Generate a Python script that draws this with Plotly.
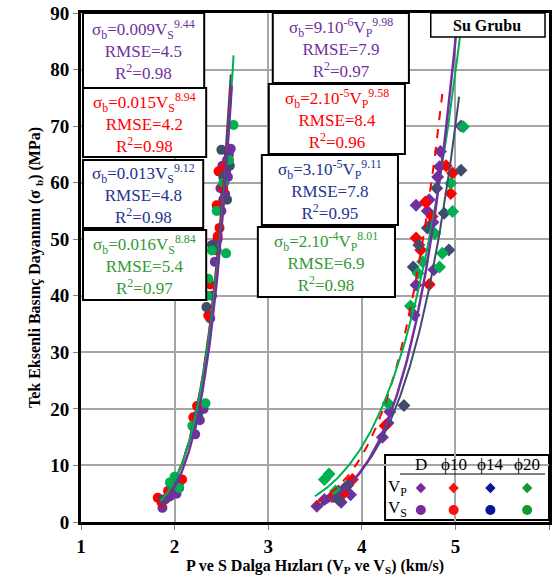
import numpy as np
import plotly.graph_objects as go

# ---- measured points: S-wave velocity (km/s) vs UCS (MPa) ----
vs_D_x = [1.87, 1.90, 1.95, 1.98, 2.02, 2.05, 2.22, 2.27, 2.31, 2.38, 2.40, 2.43, 2.46, 2.50,
          2.52, 2.49, 2.53, 2.55, 2.51, 2.56, 2.58, 2.60, 2.54, 2.57]
vs_D_y = [2.5, 4.0, 4.5, 6.5, 5.0, 7.0, 15.5, 18.0, 20.0, 36.0, 40.0, 46.0, 50.0, 55.0,
          57.0, 59.0, 60.0, 62.0, 63.0, 64.0, 65.0, 66.0, 58.0, 61.0]
vs_10_x = [1.82, 1.86, 1.93, 2.08, 2.20, 2.24, 2.36, 2.38, 2.46, 2.48, 2.45, 2.47, 2.52, 2.55, 2.58]
vs_10_y = [4.3, 3.5, 5.5, 7.5, 18.5, 20.5, 36.5, 42.0, 50.5, 52.0, 56.0, 62.0, 59.0, 63.0, 64.0]
vs_14_x = [1.88, 1.97, 2.01, 2.25, 2.34, 2.40, 2.45, 2.50, 2.52, 2.56, 2.59]
vs_14_y = [4.0, 6.0, 7.5, 19.0, 38.0, 49.0, 48.0, 65.8, 61.0, 57.0, 63.0]
vs_20_x = [1.95, 2.00, 2.05, 2.19, 2.33, 2.35, 2.36, 2.40, 2.55, 2.45, 2.52, 2.58, 2.63]
vs_20_y = [7.0, 8.0, 6.0, 17.0, 21.0, 40.0, 43.0, 48.0, 47.5, 55.0, 60.0, 64.0, 70.2]

# ---- measured points: P-wave velocity (km/s) vs UCS (MPa) ----
vp_D_x = [3.52, 3.60, 3.68, 3.75, 3.82, 3.88, 3.78, 4.22, 4.28, 4.30, 4.56, 4.58, 4.77,
          4.58, 4.72, 4.76, 4.81, 4.83, 4.84, 5.06, 4.70]
vp_D_y = [2.8, 4.0, 4.5, 5.5, 6.0, 4.8, 3.5, 15.0, 17.5, 19.5, 36.6, 41.9, 44.6,
          56.0, 57.0, 53.0, 61.0, 62.8, 65.5, 70.0, 55.0]
vp_10_x = [3.70, 3.80, 3.90, 4.25, 4.58, 4.63, 4.72, 4.68, 4.75, 4.95, 4.97, 4.90]
vp_10_y = [4.5, 5.0, 7.5, 17.0, 50.2, 48.1, 42.0, 56.6, 54.0, 58.1, 61.7, 63.0]
vp_14_x = [3.75, 3.85, 4.45, 4.55, 4.61, 4.93, 4.88, 5.06, 4.80, 4.70]
vp_14_y = [4.0, 6.5, 20.6, 45.1, 49.0, 48.1, 54.6, 62.2, 59.0, 52.0]
vp_20_x = [3.60, 3.65, 3.72, 4.28, 4.52, 4.60, 4.65, 4.83, 4.86, 4.97, 4.95, 5.085, 4.78]
vp_20_y = [7.5, 8.5, 5.5, 21.0, 38.2, 44.0, 46.0, 45.1, 47.5, 54.9, 59.9, 69.9, 51.0]

# ---- power-law fits  sigma_b = a * V^b ----
vs_coef = [0.009, 0.015, 0.013, 0.016]
vs_exp = [9.44, 8.94, 9.12, 8.84]
vs_end = [2.61, 2.60, 2.60, 2.63]
vp_coef = [9e-6, 2e-5, 3e-5, 2e-4]
vp_exp = [9.98, 9.58, 9.11, 8.01]
vp_end = [5.02, 4.86, 5.04, 5.06]
rmse_vs = ["4.5", "4.2", "4.8", "5.4"]
r2_vs = ["0.98", "0.98", "0.98", "0.97"]
rmse_vp = ["7.9", "8.4", "7.8", "6.9"]
r2_vp = ["0.97", "0.96", "0.95", "0.98"]
vp_coef_txt = ["9.10<sup>-6</sup>", "2.10<sup>-5</sup>", "3.10<sup>-5</sup>", "2.10<sup>-4</sup>"]
vs_coef_txt = ["0.009", "0.015", "0.013", "0.016"]

groups = ["D", "ϕ10", "ϕ14", "ϕ20"]
pt_colors = ["#7030A0", "#FF0000", "#3F4D6C", "#00B050"]
txt_colors = ["#7030A0", "#FF0000", "#24338F", "#339933"]
leg_colors = ["#7B2A9E", "#FF1010", "#0A1496", "#149A2C"]
line_dash = ["solid", "dash", "solid", "solid"]

vs_pts = [(vs_D_x, vs_D_y), (vs_10_x, vs_10_y), (vs_14_x, vs_14_y), (vs_20_x, vs_20_y)]
vp_pts = [(vp_D_x, vp_D_y), (vp_10_x, vp_10_y), (vp_14_x, vp_14_y), (vp_20_x, vp_20_y)]

FONT = "Liberation Serif"
W, H = 553, 585
L, R, T, B = 81, 1, 13, 63

fig = go.Figure()

# scatter markers
for i in range(4):
    fig.add_trace(go.Scatter(x=vp_pts[i][0], y=vp_pts[i][1], mode="markers",
                             marker=dict(symbol="diamond", size=10, color=pt_colors[i]),
                             showlegend=False))
    fig.add_trace(go.Scatter(x=vs_pts[i][0], y=vs_pts[i][1], mode="markers",
                             marker=dict(symbol="circle", size=10, color=pt_colors[i]),
                             showlegend=False))

# fitted curves (purple drawn last so it sits on top)
for i in [2, 1, 3, 0]:
    xs = np.linspace(1.85, vs_end[i], 80)
    fig.add_trace(go.Scatter(x=xs, y=vs_coef[i] * xs ** vs_exp[i], mode="lines",
                             line=dict(color=pt_colors[i], width=2.5 if i == 0 else 2,
                                       dash=line_dash[i]), showlegend=False))
    xp = np.linspace(3.5, vp_end[i], 120)
    fig.add_trace(go.Scatter(x=xp, y=vp_coef[i] * xp ** vp_exp[i], mode="lines",
                             line=dict(color=pt_colors[i], width=2.5 if i == 0 else 2,
                                       dash=line_dash[i]), showlegend=False))


def px_x(p):
    return (p - L) / (W - L - R)


def px_y(p):
    return (H - B - p) / (H - T - B)


shapes = []
annots = []

# equation boxes
vs_boxes = [(83, 205, 13, 88), (83, 207, 88, 157), (83, 204, 160, 228), (83, 207, 230, 300)]
vp_boxes = [(274, 411, 13, 83), (270, 407, 84, 154), (263, 400, 155, 225), (259, 397, 227, 297)]
for i in range(4):
    for box, txt in [
        (vs_boxes[i], f"σ<sub>b</sub>={vs_coef_txt[i]}V<sub>S</sub><sup>{vs_exp[i]}</sup><br>"
                      f"RMSE={rmse_vs[i]}<br>R<sup>2</sup>={r2_vs[i]}"),
        (vp_boxes[i], f"σ<sub>b</sub>={vp_coef_txt[i]}V<sub>P</sub><sup>{vp_exp[i]}</sup><br>"
                      f"RMSE={rmse_vp[i]}<br>R<sup>2</sup>={r2_vp[i]}")]:
        x0, x1, y0, y1 = box
        shapes.append(dict(type="rect", xref="paper", yref="paper",
                           x0=px_x(x0), x1=px_x(x1), y0=px_y(y1), y1=px_y(y0),
                           line=dict(color="black", width=2), fillcolor="white", layer="above"))
        annots.append(dict(xref="paper", yref="paper", x=px_x((x0 + x1) / 2), y=px_y((y0 + y1) / 2),
                           text=txt, showarrow=False, xanchor="center", yanchor="middle",
                           align="center", font=dict(family=FONT, size=17, color=txt_colors[i])))

# group label box
shapes.append(dict(type="rect", xref="paper", yref="paper",
                   x0=px_x(433), x1=px_x(548), y0=px_y(37), y1=px_y(13),
                   line=dict(color="black", width=1.5), fillcolor="white", layer="above"))
annots.append(dict(xref="paper", yref="paper", x=px_x(490), y=px_y(25), text="<b>Su Grubu</b>",
                   showarrow=False, xanchor="center", yanchor="middle",
                   font=dict(family=FONT, size=16, color="black")))

# marker key table (box sits under the traces so the key markers show)
shapes.append(dict(type="rect", xref="paper", yref="paper",
                   x0=px_x(387), x1=px_x(552), y0=px_y(520), y1=px_y(455),
                   line=dict(color="black", width=2), fillcolor="white", layer="between"))
shapes.append(dict(type="line", xref="paper", yref="paper",
                   x0=px_x(402), x1=px_x(548), y0=px_y(474), y1=px_y(474),
                   line=dict(color="black", width=1.2), layer="above"))
col_px = [423, 456, 493, 530]
for i in range(4):
    annots.append(dict(xref="paper", yref="paper", x=px_x(col_px[i]), y=px_y(464), text=groups[i],
                       showarrow=False, xanchor="center", yanchor="middle",
                       font=dict(family=FONT, size=17, color="black")))
annots.append(dict(xref="paper", yref="paper", x=px_x(400), y=px_y(488), text="V<sub>P</sub>",
                   showarrow=False, xanchor="center", yanchor="middle",
                   font=dict(family=FONT, size=17, color="black")))
annots.append(dict(xref="paper", yref="paper", x=px_x(400), y=px_y(509), text="V<sub>S</sub>",
                   showarrow=False, xanchor="center", yanchor="middle",
                   font=dict(family=FONT, size=17, color="black")))

# key markers on an overlay axis spanning the plot area (0..1)
key_x = [px_x(c) for c in col_px]
fig.add_trace(go.Scatter(x=key_x, y=[px_y(488)] * 4, mode="markers", xaxis="x2", yaxis="y2",
                         marker=dict(symbol="diamond", size=8, color=leg_colors), showlegend=False))
fig.add_trace(go.Scatter(x=key_x, y=[px_y(510)] * 4, mode="markers", xaxis="x2", yaxis="y2",
                         marker=dict(symbol="circle", size=10, color=leg_colors), showlegend=False))

fig.update_layout(
    width=W, height=H,
    margin=dict(l=L, r=R, t=T, b=B),
    paper_bgcolor="white", plot_bgcolor="white",
    showlegend=False,
    shapes=shapes, annotations=annots,
    xaxis=dict(range=[1, 6], dtick=1, tick0=1, showgrid=True, gridcolor="#A6A6A6", gridwidth=1.5,
               showline=True, linecolor="black", linewidth=3, mirror=True,
               ticks="outside", ticklen=5, tickcolor="#808080", zeroline=False,
               tickfont=dict(family=FONT, size=19, color="black", weight="bold"),
               title=dict(text="<b>P ve S Dalga Hızları (V<sub>P</sub> ve V<sub>S</sub>) (km/s)</b>",
                          font=dict(family=FONT, size=16, color="black"), standoff=4)),
    yaxis=dict(range=[0, 90], dtick=10, showgrid=True, gridcolor="#A6A6A6", gridwidth=1.5,
               showline=True, linecolor="black", linewidth=3, mirror=True,
               ticks="outside", ticklen=5, tickcolor="#808080", zeroline=False,
               tickfont=dict(family=FONT, size=19, color="black", weight="bold"),
               title=dict(text="<b>Tek Eksenli Basınç Dayanımı (σ <sub>b</sub>) (MPa)</b>",
                          font=dict(family=FONT, size=16, color="black"), standoff=6)),
    xaxis2=dict(overlaying="x", range=[0, 1], visible=False, fixedrange=True),
    yaxis2=dict(overlaying="y", range=[0, 1], visible=False, fixedrange=True),
)

fig.write_html("out.html")
